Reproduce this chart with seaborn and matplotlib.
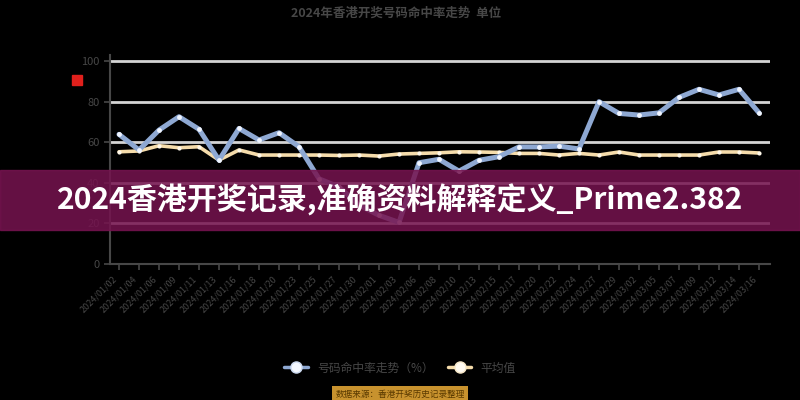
import numpy as np
import pandas as pd
import matplotlib.pyplot as plt
import seaborn as sns
from matplotlib.lines import Line2D
from matplotlib.patches import Rectangle

draw_dates = [
    "2024/01/02", "2024/01/04", "2024/01/06", "2024/01/09", "2024/01/11",
    "2024/01/13", "2024/01/16", "2024/01/18", "2024/01/20", "2024/01/23",
    "2024/01/25", "2024/01/27", "2024/01/30", "2024/02/01", "2024/02/03",
    "2024/02/06", "2024/02/08", "2024/02/10", "2024/02/13", "2024/02/15",
    "2024/02/17", "2024/02/20", "2024/02/22", "2024/02/24", "2024/02/27",
    "2024/02/29", "2024/03/02", "2024/03/05", "2024/03/07", "2024/03/09",
    "2024/03/12", "2024/03/14", "2024/03/16",
]
hit_rate = [
    63.9, 56.2, 66.0, 72.6, 66.4, 51.2, 66.8, 61.1, 64.7, 57.8,
    42.0, 38.0, 29.0, 24.0, 20.5, 49.9, 51.6, 45.8, 51.1, 52.9,
    57.7, 57.7, 58.1, 56.7, 80.0, 74.2, 73.4, 74.5, 82.1, 86.1,
    83.3, 86.1, 74.5,
]
avg_rate = [
    55.3, 55.7, 58.3, 57.3, 57.8, 51.2, 56.2, 53.7, 53.7, 53.7,
    53.7, 53.5, 53.7, 53.2, 54.2, 54.5, 54.8, 55.3, 55.2, 55.0,
    54.5, 54.5, 53.7, 54.5, 53.7, 55.2, 53.7, 53.7, 53.7, 53.7,
    55.2, 55.2, 54.7,
]
y_ticks = [0, 20, 40, 60, 80, 100]

series_names = ["号码命中率走势（%）", "平均值"]
title_text = "2024年香港开奖号码命中率走势  单位"
source_text = "数据来源：香港开奖历史记录整理"
banner_text = "2024香港开奖记录,准确资料解释定义_Prime2.382"

blue = "#8ea8d2"
cream = "#f5dcab"
grey = "#474747"

sns.set_theme(style="dark")
plt.rcParams["font.family"] = ["Noto Sans CJK SC", "DejaVu Sans"]

df = pd.DataFrame({
    "idx": np.arange(len(draw_dates)),
    "hit": hit_rate,
    "avg": avg_rate,
})

fig = plt.figure(figsize=(8, 4), dpi=100, facecolor="black")
ax = fig.add_axes([0.1375, 0.34, 0.825, 0.5225])
ax.set_facecolor("black")

for y in y_ticks[1:]:
    ax.axhline(y, color="#d4d4d4", lw=2, zorder=0)

sns.lineplot(data=df, x="idx", y="avg", ax=ax, color=cream, lw=2.6,
             marker="o", markersize=3, markerfacecolor="#fff8ea",
             markeredgewidth=0)
sns.lineplot(data=df, x="idx", y="hit", ax=ax, color=blue, lw=3.6,
             marker="o", markersize=3.5, markerfacecolor="#f0f5ff",
             markeredgewidth=0)

ax.set_xlim(-0.45, len(draw_dates) - 0.45)
ax.set_ylim(0, 103)
ax.set_yticks(y_ticks)
ax.set_yticklabels([str(v) for v in y_ticks], color=grey, fontsize=8)
ax.set_xticks(df["idx"])
ax.set_xticklabels(draw_dates, rotation=45, ha="right", color=grey, fontsize=6.5)
ax.set_xlabel("")
ax.set_ylabel("")
ax.grid(False)
ax.tick_params(axis="both", colors=grey, length=4, width=1.2, left=True, bottom=True)
for side in ["top", "right"]:
    ax.spines[side].set_visible(False)
for side in ["left", "bottom"]:
    ax.spines[side].set_visible(True)
    ax.spines[side].set_color(grey)
    ax.spines[side].set_linewidth(1.5)

fig.text(0.495, 0.968, title_text, ha="center", va="center", color=grey,
         fontsize=9, fontweight="bold")
fig.patches.append(Rectangle((0.09, 0.787), 0.012, 0.025, transform=fig.transFigure,
                             color="#e0201c", zorder=5))

handles = [
    Line2D([], [], color=blue, lw=2.5, marker="o", markersize=8,
           markerfacecolor="#f4f8ff", markeredgecolor="#c9d7ee"),
    Line2D([], [], color=cream, lw=2.5, marker="o", markersize=8,
           markerfacecolor="#fffaf0", markeredgecolor="#f6e6c6"),
]
fig.legend(handles, series_names, loc="center", bbox_to_anchor=(0.5, 0.08),
           ncol=2, frameon=False, labelcolor=grey, fontsize=8.5,
           handlelength=2, columnspacing=1.2)

fig.text(0.5, 0.015, source_text, ha="center", va="center", color="#5a3a00",
         fontsize=6.2, bbox=dict(boxstyle="square,pad=0.35", fc="#c8922e", ec="none"))

# purple headline banner laid over the chart
fig.patches.append(Rectangle((0, 0.425), 1, 0.15, transform=fig.transFigure,
                             color="#76134f", alpha=0.85, zorder=10))
fig.text(0.5, 0.5, banner_text, ha="center", va="center", color="white",
         fontsize=21.6, fontweight="bold", zorder=11)

fig.savefig("out.png", dpi=100, facecolor="black")
